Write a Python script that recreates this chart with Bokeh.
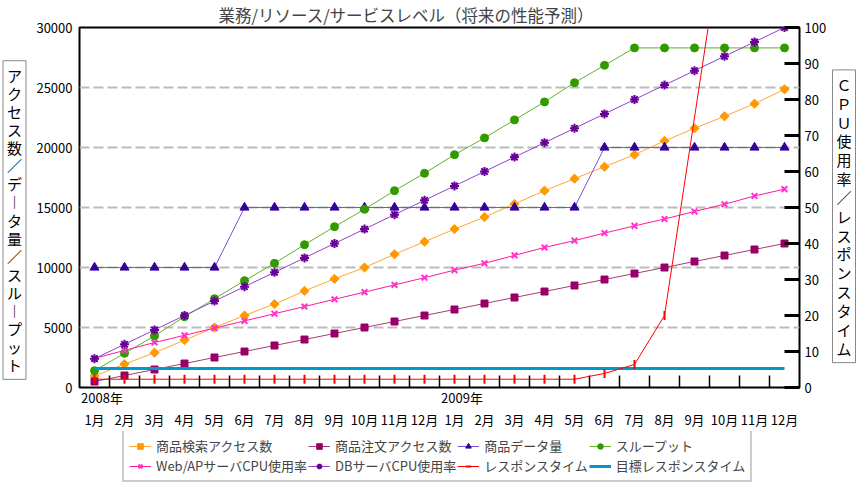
import math
from bokeh.plotting import figure
from bokeh.layouts import row, column
from bokeh.models import (Range1d, LinearAxis, FixedTicker, Label, Legend,
                          LegendItem, ColumnDataSource)
from bokeh.embed import file_html
from bokeh.resources import INLINE

FONT = "Noto Sans CJK JP"

title_text = "業務/リソース/サービスレベル（将来の性能予測）"
left_title = ["ア", "ク", "セ", "ス", "数", "／", "デ", "︱", "タ", "量", "／",
              "ス", "ル", "︱", "プ", "ッ", "ト"]
right_title = ["Ｃ", "Ｐ", "Ｕ", "使", "用", "率", "／", "レ", "ス", "ポ", "ン",
               "ス", "タ", "イ", "ム"]
years = ["2008年", "2009年"]
months = ["1月", "2月", "3月", "4月", "5月", "6月", "7月", "8月", "9月", "10月", "11月", "12月",
          "1月", "2月", "3月", "4月", "5月", "6月", "7月", "8月", "9月", "10月", "11月", "12月"]
left_ticks = [0, 5000, 10000, 15000, 20000, 25000, 30000]
grid_ticks = [5000, 10000, 15000, 20000, 25000]
right_ticks = [0, 10, 20, 30, 40, 50, 60, 70, 80, 90, 100]

# left axis series
search_access = [950, 1950, 2900, 3950, 5000, 6000, 6950, 8050, 9050, 10000, 11100, 12150,
                 13200, 14200, 15300, 16400, 17400, 18400, 19400, 20550, 21600, 22600, 23650, 24850]
order_access = [500, 1000, 1500, 2000, 2500, 3000, 3500, 4000, 4500, 5000, 5500, 6000,
                6500, 7000, 7500, 8000, 8500, 9000, 9500, 10000, 10500, 11000, 11500, 12000]
data_volume = [10000, 10000, 10000, 10000, 10000, 15000, 15000, 15000, 15000, 15000, 15000, 15000,
               15000, 15000, 15000, 15000, 15000, 20000, 20000, 20000, 20000, 20000, 20000, 20000]
throughput = [1400, 2850, 4300, 5900, 7400, 8900, 10350, 11900, 13400, 14850, 16400, 17850,
              19400, 20800, 22300, 23800, 25400, 26850, 28300, 28300, 28300, 28300, 28300, 28300]
# right axis series
web_cpu = [8.1, 10.3, 12.5, 14.5, 16.5, 18.5, 20.5, 22.5, 24.5, 26.5, 28.5, 30.5,
           32.6, 34.5, 36.7, 38.9, 40.8, 42.9, 44.9, 46.8, 48.9, 50.9, 53.2, 55.1]
db_cpu = [8, 12, 16, 20, 24, 28, 32, 36, 40, 44, 48, 52,
          56, 60, 64, 68, 72, 76, 80, 84, 88, 92, 96, 100]
response_time = [2.3, 2.3, 2.3, 2.3, 2.3, 2.3, 2.3, 2.3, 2.3, 2.3, 2.3, 2.3,
                 2.3, 2.3, 2.3, 2.3, 2.3, 3.9, 6.4, 20, None, 130, None, None]
target_response = [5.3] * 24

labels = ["商品検索アクセス数", "商品注文アクセス数", "商品データ量", "スループット",
          "Web/APサーバCPU使用率", "DBサーバCPU使用率", "レスポンスタイム", "目標レスポンスタイム"]

x = list(range(len(months)))
H_MAIN = 431
H_LEG = 52

p = figure(width=802, height=H_MAIN, output_backend="svg", toolbar_location=None,
           x_range=Range1d(-0.5, len(months) - 0.5), y_range=Range1d(0, 30000),
           min_border_left=51, min_border_right=31, min_border_top=27, min_border_bottom=0)
p.extra_y_ranges = {"cpu": Range1d(0, 100)}
p.outline_line_color = "black"
p.outline_line_width = 2
p.outline_line_alpha = 1.0

p.title.text = title_text
p.title.align = "left"
p.title.offset = 139
p.title.text_font = FONT
p.title.text_font_size = "16.5px"
p.title.text_font_style = "normal"
p.title.standoff = 0
p.title.vertical_align = "middle"

# grids
p.xgrid.visible = False
p.ygrid.ticker = FixedTicker(ticks=grid_ticks)
p.ygrid.grid_line_color = "#BBBBBB"
p.ygrid.grid_line_width = 2
p.ygrid.grid_line_dash = "10 4"


def style_axis(ax, standoff):
    ax.major_tick_in = 0
    ax.major_tick_out = 0
    ax.minor_tick_in = 0
    ax.minor_tick_out = 0
    ax.axis_line_color = None
    ax.major_label_standoff = standoff
    ax.major_label_text_font = FONT
    ax.major_label_text_font_size = "13px"
    ax.major_label_text_color = "black"


# left axis
yax = p.yaxis[0]
yax.ticker = FixedTicker(ticks=left_ticks)
style_axis(yax, 7)

# right axis
rax = LinearAxis(y_range_name="cpu", ticker=FixedTicker(ticks=right_ticks))
style_axis(rax, 5)
rax.major_tick_in = 15
rax.major_tick_line_width = 3
p.add_layout(rax, "right")

# bottom axis 1: month boundaries (inner ticks) + year labels
month_starts = [i for i, m in enumerate(months) if m == "1月"]
year_pos = [i - 0.5 + 0.75 for i in month_starts]
xax = p.xaxis[0]
xax.ticker = FixedTicker(ticks=year_pos, minor_ticks=[i + 0.5 for i in x[:-1]])
xax.major_label_overrides = {pos: yr for pos, yr in zip(year_pos, years)}
style_axis(xax, 0)
xax.minor_tick_in = 12
xax.minor_tick_line_color = "black"
xax.minor_tick_line_width = 1.5

# bottom axis 2: month labels
max_ = LinearAxis(ticker=FixedTicker(ticks=x))
max_.major_label_overrides = {i: m for i, m in zip(x, months)}
style_axis(max_, 0)
p.add_layout(max_, "below")

styles = [
    dict(ys=search_access, line_color="#FFA633", marker="square", marker_color="#FF9900", size=6.5, angle=math.pi / 4),
    dict(ys=order_access, line_color="#A0407A", marker="square", marker_color="#990066", size=7),
    dict(ys=data_volume, line_color="#7A55CC", marker="triangle", marker_color="#330099", size=9),
    dict(ys=throughput, line_color="#5FB22A", marker="circle", marker_color="#339900", size=8),
    dict(ys=web_cpu, line_color="#FF1A9C", marker="x", marker_color="#FF33CC", size=8, y_range_name="cpu", mline_width=2),
    dict(ys=db_cpu, line_color="#9440CC", marker="asterisk", marker_color="#660099", size=9, y_range_name="cpu", mline_width=2),
    dict(ys=response_time, line_color="#FF0000", marker="dash", marker_color="#FF0000", size=9, y_range_name="cpu", angle=math.pi / 2, mline_width=2),
    dict(ys=target_response, line_color="#0099CC", marker=None, marker_color=None, size=0, y_range_name="cpu", line_width=3),
]
draw_order = [0, 1, 2, 3, 4, 5, 7, 6]


def series(fig, ys, line_color, marker, marker_color, size, y_range_name="default",
           line_width=1, angle=0.0, mline_width=1):
    xs = [xi for xi, v in zip(x, ys) if v is not None]
    vs = [v for v in ys if v is not None]
    src = ColumnDataSource(dict(x=xs, y=vs))
    rs = [fig.line("x", "y", source=src, line_color=line_color, line_width=line_width,
                   y_range_name=y_range_name)]
    if marker is not None:
        rs.append(fig.scatter("x", "y", source=src, marker=marker, size=size,
                              fill_color=marker_color, line_color=marker_color,
                              line_width=mline_width, angle=angle, y_range_name=y_range_name))
    return rs


for k in draw_order:
    series(p, **styles[k])

# legend figure: same series drawn outside its visible ranges, only the legend shows
lf = figure(width=857, height=H_LEG, output_backend="svg", toolbar_location=None,
            x_range=Range1d(-200, -199), y_range=Range1d(-200, -199), min_border=0)
lf.extra_y_ranges = {"cpu": Range1d(-200, -199)}
lf.axis.visible = False
lf.grid.visible = False
lf.outline_line_color = None
items = []
for k, lab in enumerate(labels):
    rs = series(lf, **styles[k])
    items.append(LegendItem(label=lab, renderers=rs))
legend = Legend(
    items=items, orientation="horizontal", ncols=4, location=(122, 1),
    label_text_font=FONT, label_text_font_size="13px",
    glyph_width=22, glyph_height=14, label_height=14, label_standoff=5,
    spacing=1, padding=5, margin=0,
    border_line_color="#999999", border_line_width=2,
    background_fill_color="white")
lf.add_layout(legend)


def side_box(width, text_chars, cx, cy, line_height):
    f = figure(width=width, height=H_MAIN, output_backend="svg", toolbar_location=None,
               x_range=Range1d(0, width), y_range=Range1d(H_MAIN, 0), min_border=0)
    f.axis.visible = False
    f.grid.visible = False
    f.outline_line_color = None
    f.add_layout(Label(x=cx, y=cy, text="\n".join(text_chars), text_font=FONT,
                       text_font_size="15px", text_line_height=line_height,
                       text_align="center", text_baseline="middle", text_color="black",
                       border_line_color="#888888", border_line_width=1,
                       background_fill_color="white", padding=4))
    return f


left_fig = side_box(28, left_title, 14, 230.5, 0.862)
right_fig = side_box(27, right_title, 13.5, 226, 0.897)

layout = column(row(left_fig, p, right_fig, spacing=0), lf, spacing=0)
open("out.html", "w").write(file_html(layout, INLINE))
